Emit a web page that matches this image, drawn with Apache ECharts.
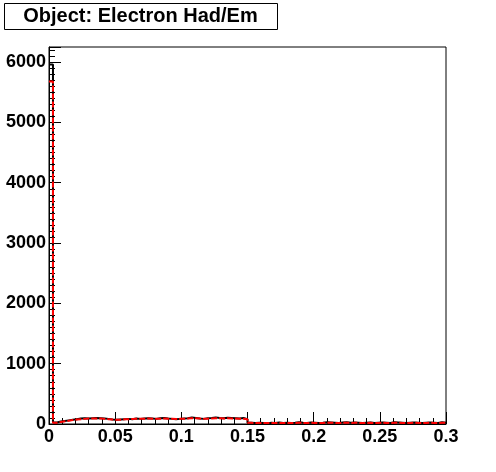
<!DOCTYPE html>
<html>
<head>
<meta charset="utf-8">
<script src="https://cdn.jsdelivr.net/npm/echarts@6/dist/echarts.min.js"></script>
<style>
html,body{margin:0;padding:0;background:#fff;}
#chart{width:496px;height:472px;}
</style>
</head>
<body>
<div id="chart"></div>
<script>
// ---- data ----
var titleText = "Object: Electron Had/Em";
var xMin = 0, xMax = 0.3, nBins = 100;
var yMax = 6250;
var xTickLabels = ["0", "0.05", "0.1", "0.15", "0.2", "0.25", "0.3"];
var yTickLabels = ["0", "1000", "2000", "3000", "4000", "5000", "6000"];

var dataCounts = [5960,
 25, 40, 50, 60, 70, 80, 90, 95, 90, 95,
 100, 95, 90, 85, 75, 70, 75, 80, 85, 80,
 90, 85, 90, 95, 90, 85, 95, 100, 90, 85,
 80, 85, 90, 95, 110, 100, 90, 85, 95, 100,
 110, 100, 95, 105, 100, 95, 90, 100, 80, 20,
 15, 20, 15, 10, 20, 15, 25, 15, 20, 15,
 20, 30, 20, 15, 25, 20, 15, 20, 30, 25,
 20, 15, 25, 30, 20, 25, 20, 15, 20, 25,
 15, 20, 25, 20, 15, 30, 25, 20, 15, 20,
 25, 20, 15, 20, 25, 20, 15, 30, 20];

var refCounts = [5680,
 20, 35, 45, 55, 65, 75, 80, 85, 90, 90,
 90, 90, 85, 80, 75, 70, 72, 78, 80, 82,
 85, 85, 88, 90, 88, 85, 88, 90, 88, 85,
 82, 85, 88, 90, 95, 95, 90, 85, 88, 92,
 95, 95, 92, 95, 92, 90, 88, 88, 80, 20,
 15, 15, 15, 15, 18, 15, 18, 15, 18, 15,
 18, 20, 18, 15, 20, 18, 15, 18, 22, 20,
 18, 15, 20, 22, 18, 20, 18, 15, 18, 20,
 15, 18, 20, 18, 15, 22, 20, 18, 15, 18,
 20, 18, 15, 18, 20, 18, 15, 22, 18];

// ---- build step series ----
function stepPoints(counts){
  var w = (xMax - xMin) / nBins;
  var pts = [];
  for (var i = 0; i < counts.length; i++) pts.push([xMin + i * w, counts[i]]);
  pts.push([xMax, counts[counts.length - 1]]);
  return pts;
}

var FONT = "'Liberation Sans', Arial, Helvetica, sans-serif";
var chart = echarts.init(document.getElementById('chart'), null, {renderer: 'canvas'});
chart.setOption({
  animation: false,
  backgroundColor: '#fff',
  grid: {left: 49, right: 50, top: 47, bottom: 48, show: true, borderColor: '#000', borderWidth: 1, backgroundColor: 'transparent'},
  graphic: [
    {type: 'rect', left: 4, top: 3, shape: {width: 273, height: 26}, style: {fill: '#fff', stroke: '#000', lineWidth: 1}, z: 10},
    {type: 'text', x: 140.5, y: 16.5, style: {text: titleText, font: 'bold 20px ' + FONT, fill: '#000', textAlign: 'center', textVerticalAlign: 'middle'}, z: 11}
  ],
  xAxis: {
    type: 'value', min: xMin, max: xMax, interval: 0.05,
    axisLine: {show: true, lineStyle: {color: '#000', width: 1}},
    axisTick: {show: true, inside: true, length: 12, lineStyle: {color: '#000'}},
    minorTick: {show: true, splitNumber: 5, length: 6, lineStyle: {color: '#000'}},
    splitLine: {show: false},
    axisLabel: {margin: 4, color: '#000', fontFamily: FONT, fontWeight: 'bold', fontSize: 18,
      formatter: function(v){ var i = Math.round(v / 0.05); return xTickLabels[i] !== undefined ? xTickLabels[i] : ''; }}
  },
  yAxis: {
    type: 'value', min: 0, max: yMax, interval: 1000,
    axisLine: {show: true, lineStyle: {color: '#000', width: 1}},
    axisTick: {show: true, inside: true, length: 12, lineStyle: {color: '#000'}},
    minorTick: {show: true, splitNumber: 10, length: 6, lineStyle: {color: '#000'}},
    splitLine: {show: false},
    axisLabel: {margin: 3, color: '#000', fontFamily: FONT, fontWeight: 'bold', fontSize: 18, showMaxLabel: false,
      formatter: function(v){ var i = Math.round(v / 1000); return (v % 1000 === 0 && yTickLabels[i] !== undefined) ? yTickLabels[i] : ''; }}
  },
  series: [
    {type: 'line', step: 'end', data: stepPoints(dataCounts), showSymbol: false, symbol: 'none',
     lineStyle: {color: '#000', width: 2}, z: 2},
    {type: 'line', step: 'end', data: stepPoints(refCounts), showSymbol: false, symbol: 'none',
     lineStyle: {color: '#ff0000', width: 2, type: [6, 2]}, z: 3}
  ]
});
</script>
</body>
</html>
